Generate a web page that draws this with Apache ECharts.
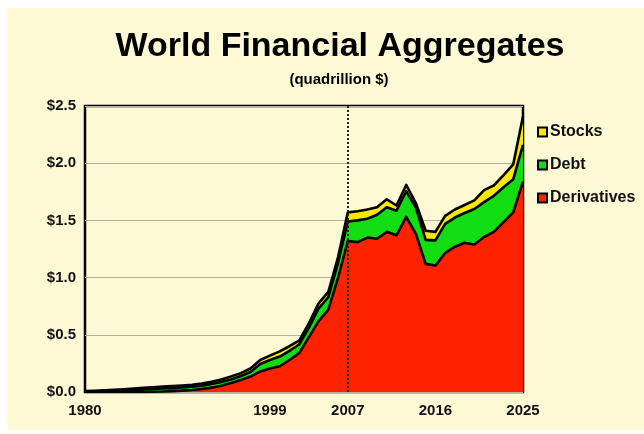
<!DOCTYPE html>
<html>
<head>
<meta charset="utf-8">
<script src="https://cdn.jsdelivr.net/npm/echarts@6/dist/echarts.min.js"></script>
<style>
html,body{margin:0;padding:0;background:#ffffff;}
#chart{position:absolute;left:8px;top:8px;width:636px;height:422px;}
</style>
</head>
<body>
<div id="chart"></div>
<script>
const years = ['1980','1981','1982','1983','1984','1985','1986','1987','1988','1989',
  '1990','1991','1992','1993','1994','1995','1996','1997','1998','1999',
  '2000','2001','2002','2003','2004','2005','2006','2007','2008','2009',
  '2010','2011','2012','2013','2014','2015','2016','2017','2018','2019',
  '2020','2021','2022','2023','2024','2025'];
const shownYears = ['1980','1999','2007','2016','2025'];
const markYear = '2007';

const derivatives = [0,0,0,0,0,0,0.001,0.002,0.004,0.008,
  0.012,0.018,0.026,0.038,0.055,0.078,0.105,0.135,0.18,0.205,
  0.225,0.28,0.34,0.48,0.62,0.72,1.0,1.32,1.31,1.35,
  1.34,1.40,1.37,1.53,1.38,1.12,1.105,1.215,1.27,1.305,
  1.29,1.355,1.40,1.485,1.57,1.84];
const debt = [0.004,0.006,0.008,0.011,0.014,0.018,0.021,0.024,0.026,0.026,
  0.028,0.028,0.03,0.032,0.033,0.032,0.035,0.04,0.065,0.075,
  0.085,0.08,0.075,0.08,0.11,0.11,0.13,0.17,0.19,0.165,
  0.21,0.215,0.215,0.225,0.23,0.21,0.22,0.255,0.255,0.26,
  0.31,0.305,0.315,0.305,0.29,0.32];
const stocks = [0.004,0.005,0.007,0.008,0.01,0.012,0.014,0.016,0.017,0.018,
  0.017,0.017,0.018,0.02,0.022,0.025,0.025,0.03,0.035,0.038,
  0.045,0.04,0.035,0.04,0.045,0.045,0.05,0.08,0.08,0.08,
  0.065,0.07,0.045,0.055,0.04,0.08,0.075,0.07,0.07,0.07,
  0.075,0.105,0.09,0.105,0.13,0.25];

const FONT = '"Liberation Sans", Arial, sans-serif';
const chart = echarts.init(document.getElementById('chart'), null, {renderer:'canvas'});

function areaSeries(name, data, color, withMark) {
  const s = {
    name: name, type: 'line', stack: 'total', data: data,
    color: color,
    showSymbol: false, symbol: 'none',
    lineStyle: {color: '#000', width: 2.6, join: 'round'},
    areaStyle: {color: color, opacity: 1},
    itemStyle: {color: color, borderColor: '#000', borderWidth: 1.5},
    emphasis: {disabled: true},
    animation: false
  };
  if (withMark) {
    s.markLine = {
      silent: true, symbol: ['none','none'], label: {show: false},
      lineStyle: {color: '#222', type: [2, 2], width: 2},
      data: [{xAxis: markYear}]
    };
  }
  return s;
}

chart.setOption({
  backgroundColor: '#fdf9d4',
  animation: false,
  title: [
    {text: 'World Financial Aggregates', left: 327, top: 17, textAlign: 'center',
     textStyle: {fontFamily: FONT, fontSize: 34, fontWeight: 'bold', color: '#000'}},
    {text: '(quadrillion $)', left: 326, top: 59, textAlign: 'center',
     textStyle: {fontFamily: FONT, fontSize: 15, fontWeight: 'bold', color: '#000'}}
  ],
  legend: {
    orient: 'vertical', left: 524, top: 111, itemGap: 17,
    itemWidth: 9, itemHeight: 9, icon: 'rect',
    data: ['Stocks','Debt','Derivatives'],
    itemStyle: {borderColor: '#000', borderWidth: 2},
    textStyle: {fontFamily: FONT, fontSize: 16, fontWeight: 'bold', color: '#111', padding: [0,0,0,-2]}
  },
  grid: {left: 77, right: 121, top: 98, bottom: 38, show: true,
    borderColor: '#000', borderWidth: 2.5, backgroundColor: 'transparent'},
  xAxis: {
    type: 'category', data: years, boundaryGap: false,
    axisLine: {show: false}, axisTick: {show: false},
    axisLabel: {
      interval: (i, v) => shownYears.indexOf(v) >= 0,
      fontFamily: FONT, fontSize: 15, fontWeight: 'bold', color: '#111', margin: 11
    },
    splitLine: {show: false}
  },
  yAxis: {
    type: 'value', min: 0, max: 2.5, interval: 0.5,
    axisLine: {show: false}, axisTick: {show: false},
    axisLabel: {formatter: v => '$' + v.toFixed(1),
      fontFamily: FONT, fontSize: 15, fontWeight: 'bold', color: '#111', margin: 9},
    splitLine: {lineStyle: {color: '#b5b19c', width: 1.2}}
  },
  series: [
    areaSeries('Derivatives', derivatives, '#ff2200', true),
    areaSeries('Debt', debt, '#11dd11', false),
    areaSeries('Stocks', stocks, '#f7e800', false)
  ]
});
</script>
</body>
</html>
